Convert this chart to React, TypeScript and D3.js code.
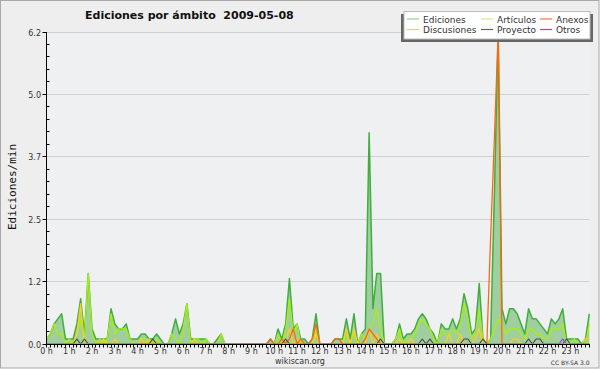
import React, { useRef, useEffect } from 'react';
import * as d3 from 'd3';

// edits per minute, one value per 10-minute slot, one row per hour
const ediciones = [
  0.1, 0.2, 0.4, 0.5, 0.6, 0.1, // 0 h
  0.1, 0.1, 0.4, 0.9, 0.2, 1.4, // 1 h
  0.3, 0.1, 0.1, 0.1, 0.1, 0.7, // 2 h
  0.4, 0.3, 0.3, 0.4, 0.1, 0.1, // 3 h
  0.1, 0.2, 0.2, 0.1, 0.1, 0.2, // 4 h
  0.1, 0, 0, 0.2, 0.5, 0.2, // 5 h
  0.4, 0.8, 0.1, 0.1, 0.1, 0.1, // 6 h
  0.1, 0, 0, 0.1, 0.2, 0, // 7 h
  0, 0, 0, 0, 0, 0, // 8 h
  0, 0, 0, 0, 0, 0.1, // 9 h
  0, 0.3, 0.1, 0.4, 1.3, 0.3, // 10 h
  0.4, 0.1, 0.1, 0, 0.1, 0.6, // 11 h
  0, 0, 0, 0, 0.1, 0.1, // 12 h
  0.1, 0.5, 0.1, 0.6, 0, 0.2, // 13 h
  0.3, 4.2, 0.7, 1.4, 1.4, 0, // 14 h
  0, 0, 0.1, 0.4, 0.1, 0.2, // 15 h
  0.2, 0.3, 0.5, 0.6, 0.5, 0.3, // 16 h
  0.2, 0, 0.4, 0.3, 0.3, 0.5, // 17 h
  0.3, 0.5, 1.0, 0.7, 0.2, 0.3, // 18 h
  1.2, 0.1, 0, 0.1, 3.0, 6.2, // 19 h
  0.7, 0.4, 0.7, 0.7, 0.6, 0.4, // 20 h
  0.2, 0.7, 0.5, 0.5, 0.4, 0.3, // 21 h
  0.2, 0.5, 0.4, 0.5, 0.7, 0.1, // 22 h
  0.1, 0.1, 0.1, 0, 0.1, 0.6, // 23 h
];

const articulos = [
  0.1, 0.2, 0.4, 0.2, 0.2, 0,
  0.1, 0, 0.2, 0.5, 0.1, 1.4,
  0.2, 0, 0.1, 0, 0.1, 0.6,
  0.2, 0.3, 0.3, 0.3, 0.1, 0,
  0, 0.1, 0.1, 0, 0, 0.1,
  0, 0, 0, 0.2, 0.1, 0,
  0.3, 0.8, 0, 0.1, 0.1, 0,
  0.1, 0, 0, 0, 0.2, 0,
  0, 0, 0, 0, 0, 0,
  0, 0, 0, 0, 0, 0,
  0, 0.2, 0, 0.3, 0.9, 0.2,
  0.4, 0, 0, 0, 0, 0.3,
  0, 0, 0, 0, 0, 0,
  0, 0.2, 0, 0.2, 0, 0.2,
  0.1, 0.3, 0.4, 0.7, 0.3, 0,
  0, 0, 0.1, 0.3, 0, 0.1,
  0.1, 0.2, 0.4, 0.5, 0.4, 0.3,
  0.1, 0, 0.3, 0.2, 0.2, 0.3,
  0.2, 0.4, 0.8, 0.5, 0.1, 0.2,
  0.7, 0.1, 0, 0.1, 0.3, 0.5,
  0.4, 0.2, 0.3, 0.3, 0.3, 0.2,
  0.1, 0.3, 0.3, 0.2, 0.2, 0.1,
  0.1, 0.3, 0.3, 0.3, 0.4, 0,
  0, 0.1, 0, 0, 0, 0.4,
];

const discusiones = [
  0, 0, 0, 0, 0, 0,
  0, 0, 0.2, 0.8, 0, 0,
  0, 0, 0, 0.1, 0, 0,
  0.1, 0, 0, 0, 0, 0,
  0, 0.1, 0, 0.1, 0, 0,
  0, 0, 0, 0, 0, 0,
  0, 0, 0, 0.1, 0, 0,
  0, 0, 0, 0, 0, 0,
  0, 0, 0, 0, 0, 0,
  0, 0, 0, 0, 0, 0,
  0, 0, 0, 0.1, 0.3, 0,
  0.1, 0, 0, 0, 0, 0.2,
  0, 0, 0, 0, 0, 0,
  0, 0.3, 0, 0.3, 0, 0,
  0, 0.3, 0, 0.2, 0, 0,
  0, 0, 0, 0.1, 0, 0,
  0.1, 0, 0, 0, 0, 0,
  0, 0, 0, 0, 0.2, 0,
  0, 0.2, 0, 0, 0, 0.1,
  0.3, 0, 0, 0, 0, 0,
  0, 0, 0, 0.1, 0.1, 0,
  0, 0, 0, 0, 0, 0,
  0, 0, 0, 0, 0, 0,
  0, 0, 0, 0, 0.1, 0.1,
];

const anexos = [
  0, 0, 0, 0, 0, 0,
  0, 0, 0, 0, 0, 0,
  0, 0, 0, 0, 0, 0,
  0, 0, 0, 0, 0, 0,
  0, 0, 0, 0, 0, 0,
  0, 0, 0, 0, 0, 0,
  0, 0, 0, 0, 0, 0,
  0, 0, 0, 0, 0, 0,
  0, 0, 0, 0, 0, 0,
  0, 0, 0, 0, 0, 0.1,
  0, 0, 0.1, 0, 0.1, 0.3,
  0, 0.1, 0, 0, 0.1, 0.4,
  0, 0, 0, 0, 0.1, 0.1,
  0, 0, 0, 0, 0, 0,
  0.1, 0.3, 0.2, 0.1, 0, 0,
  0, 0, 0, 0, 0, 0,
  0, 0, 0, 0, 0, 0,
  0, 0, 0, 0, 0, 0,
  0, 0, 0, 0, 0, 0,
  0, 0, 0, 2.1, 4.1, 6.2,
  0, 0, 0, 0, 0, 0,
  0, 0, 0, 0, 0, 0,
  0, 0, 0, 0, 0, 0,
  0, 0, 0, 0, 0, 0,
];

const proyecto = [
  0, 0, 0, 0, 0, 0,
  0, 0, 0.1, 0, 0.1, 0,
  0, 0, 0, 0, 0, 0,
  0, 0, 0, 0, 0, 0,
  0, 0, 0, 0, 0.1, 0,
  0, 0, 0, 0, 0, 0,
  0, 0, 0, 0, 0, 0,
  0, 0, 0, 0, 0, 0,
  0, 0, 0, 0, 0, 0,
  0, 0, 0, 0, 0, 0,
  0, 0, 0, 0.1, 0, 0,
  0, 0, 0, 0, 0, 0,
  0, 0, 0, 0, 0, 0,
  0, 0, 0, 0, 0, 0,
  0, 0, 0, 0, 0.1, 0,
  0, 0, 0, 0, 0, 0,
  0, 0, 0, 0.1, 0, 0.1,
  0, 0, 0, 0, 0, 0,
  0, 0, 0.1, 0.1, 0, 0,
  0, 0.1, 0, 0, 0, 0,
  0, 0, 0, 0, 0, 0,
  0, 0.1, 0, 0.1, 0.1, 0,
  0, 0, 0, 0, 0, 0.1,
  0, 0, 0, 0, 0, 0,
];

const otros = [
  0, 0, 0, 0, 0, 0,
  0, 0, 0, 0, 0, 0,
  0, 0, 0, 0, 0, 0,
  0, 0, 0, 0, 0, 0,
  0, 0, 0, 0, 0, 0,
  0, 0, 0, 0, 0, 0,
  0, 0, 0, 0, 0, 0,
  0, 0, 0, 0, 0, 0,
  0, 0, 0, 0, 0, 0,
  0, 0, 0, 0, 0, 0,
  0, 0, 0, 0, 0, 0,
  0, 0, 0, 0, 0, 0,
  0, 0, 0, 0, 0, 0,
  0, 0, 0, 0, 0, 0,
  0, 0, 0, 0, 0, 0,
  0, 0, 0, 0, 0, 0,
  0, 0, 0, 0, 0, 0,
  0, 0, 0, 0, 0, 0,
  0, 0, 0, 0, 0, 0,
  0, 0, 0, 0, 0, 0,
  0, 0, 0, 0, 0, 0,
  0, 0, 0, 0, 0, 0,
  0, 0, 0, 0, 0.1, 0,
  0, 0, 0, 0, 0, 0,
];

const SLOT_MIN = 10;
const hours = d3.range(0, 24);
const yTicks = [0, 1.24, 2.48, 3.72, 4.96, 6.2];
const yMax = 6.2;

const title = 'Ediciones por ámbito  2009-05-08';

export default function App() {
  const svgRef = useRef(null);

  useEffect(() => {
    const svg = d3.select(svgRef.current);
    svg.selectAll('*').remove();

    const font = 'DejaVu Sans, sans-serif';
    const lastMin = (ediciones.length - 1) * SLOT_MIN;

    const x = d3.scaleLinear().domain([0, 24 * 60]).range([46.5, 593.1]);
    const y = d3.scaleLinear().domain([0, yMax]).range([344, 32]);
    const crisp = (v) => Math.round(v - 0.5) + 0.5;

    // frame + plot background
    svg.append('rect')
      .attr('x', 0.5).attr('y', 0.5)
      .attr('width', 598.5).attr('height', 367.5)
      .attr('fill', '#eeeeee')
      .attr('stroke', '#a8a8a8');

    svg.append('rect')
      .attr('x', x(0)).attr('y', y(yMax))
      .attr('width', x(lastMin) - x(0)).attr('height', y(0) - y(yMax))
      .attr('fill', '#eff0f2');

    // grid
    svg.append('g').selectAll('line')
      .data(yTicks.filter(t => t > 0))
      .enter().append('line')
      .attr('x1', x(0)).attr('x2', x(lastMin))
      .attr('y1', d => crisp(y(d))).attr('y2', d => crisp(y(d)))
      .attr('stroke', '#d0d0d0');

    svg.append('clipPath').attr('id', 'plotclip')
      .append('rect').attr('x', x(0)).attr('y', 0)
      .attr('width', 560).attr('height', y(0) - 0.5);

    const plot = svg.append('g').attr('clip-path', 'url(#plotclip)');

    const area = d3.area()
      .x((d, i) => x(i * SLOT_MIN))
      .y0(y(0))
      .y1(d => y(d));
    const line = d3.line()
      .x((d, i) => x(i * SLOT_MIN))
      .y(d => y(d));

    plot.append('path')
      .datum(ediciones)
      .attr('d', area)
      .attr('fill', '#9fcf9f');

    const series = [
      { values: ediciones, color: '#3fae3f', width: 1.5 },
      { values: articulos, color: '#aaee11', width: 1.3 },
      { values: discusiones, color: '#ffcc22', width: 1.3 },
      { values: anexos, color: '#ff6611', width: 1.3 },
      { values: proyecto, color: '#444444', width: 1.1 },
      { values: otros, color: '#9933ee', width: 1.1 },
    ];

    series.forEach(s => {
      plot.append('path')
        .datum(s.values)
        .attr('d', line)
        .attr('fill', 'none')
        .attr('stroke', s.color)
        .attr('stroke-width', s.width)
        .attr('stroke-linejoin', 'round');
    });

    // y axis
    const ax = svg.append('g');
    ax.append('line')
      .attr('x1', 46.5).attr('x2', 46.5)
      .attr('y1', y(yMax)).attr('y2', y(0))
      .attr('stroke', '#000');

    yTicks.forEach((t, k) => {
      const yy = crisp(y(t));
      ax.append('line')
        .attr('x1', 42.5).attr('x2', 46.5)
        .attr('y1', yy).attr('y2', yy)
        .attr('stroke', '#000');
      ax.append('text')
        .attr('x', 41).attr('y', yy + 3)
        .attr('text-anchor', 'end')
        .attr('font-family', font).attr('font-size', 8)
        .attr('fill', '#333')
        .text(t.toFixed(1));
      if (k < yTicks.length - 1) {
        const step = (yTicks[k + 1] - t) / 5;
        for (let m = 1; m < 5; m++) {
          const ym = crisp(y(t + step * m));
          ax.append('line')
            .attr('x1', 46.5).attr('x2', 49.5)
            .attr('y1', ym).attr('y2', ym)
            .attr('stroke', '#000');
        }
      }
    });

    // x axis
    ax.append('line')
      .attr('x1', x(0)).attr('x2', x(lastMin) + 0.5)
      .attr('y1', 344.5).attr('y2', 344.5)
      .attr('stroke', '#000');

    d3.range(0, ediciones.length).forEach(i => {
      const xx = crisp(x(i * SLOT_MIN));
      ax.append('line')
        .attr('x1', xx).attr('x2', xx)
        .attr('y1', 344.5).attr('y2', 347.5)
        .attr('stroke', '#000');
    });

    ax.selectAll('.hl')
      .data(hours)
      .enter().append('text')
      .attr('x', h => x(h * 60))
      .attr('y', 354)
      .attr('text-anchor', 'middle')
      .attr('font-family', font).attr('font-size', 8)
      .attr('fill', '#333')
      .text(h => `${h} h`);

    // titles
    svg.append('text')
      .attr('x', 85).attr('y', 18.5)
      .attr('font-family', font).attr('font-size', 11)
      .attr('font-weight', 'bold')
      .attr('fill', '#111')
      .style('white-space', 'pre')
      .text(title);

    svg.append('text')
      .attr('transform', 'translate(16,187) rotate(-90)')
      .attr('text-anchor', 'middle')
      .attr('font-family', 'DejaVu Sans Mono, monospace').attr('font-size', 11)
      .attr('fill', '#111')
      .text('Ediciones/min');

    svg.append('text')
      .attr('x', 300).attr('y', 363.5)
      .attr('text-anchor', 'middle')
      .attr('font-family', font).attr('font-size', 8)
      .attr('fill', '#333')
      .text('wikiscan.org');

    svg.append('text')
      .attr('x', 589.5).attr('y', 364.5)
      .attr('text-anchor', 'end')
      .attr('font-family', font).attr('font-size', 6)
      .attr('fill', '#333')
      .text('CC BY-SA 3.0');

    // legend
    const legendItems = [
      { name: 'Ediciones', color: '#8fd18f', col: 0, row: 0 },
      { name: 'Artículos', color: '#ccee88', col: 1, row: 0 },
      { name: 'Anexos', color: '#ff7744', col: 2, row: 0 },
      { name: 'Discusiones', color: '#ffcc55', col: 0, row: 1 },
      { name: 'Proyecto', color: '#666666', col: 1, row: 1 },
      { name: 'Otros', color: '#9944ee', col: 2, row: 1 },
    ];
    const colX = [407, 481, 540];

    const lg = svg.append('g');
    lg.append('rect')
      .attr('x', 401).attr('y', 14)
      .attr('width', 192).attr('height', 28)
      .attr('fill', '#666');
    lg.append('rect')
      .attr('x', 404).attr('y', 11.5)
      .attr('width', 186).attr('height', 27.5)
      .attr('fill', '#fff')
      .attr('stroke', '#bbb');

    legendItems.forEach(d => {
      const ly = 19 + d.row * 10.5;
      lg.append('line')
        .attr('x1', colX[d.col]).attr('x2', colX[d.col] + 12)
        .attr('y1', ly).attr('y2', ly)
        .attr('stroke', d.color).attr('stroke-width', 1.2);
      lg.append('text')
        .attr('x', colX[d.col] + 16).attr('y', ly + 3.5)
        .attr('font-family', font).attr('font-size', 9)
        .attr('fill', '#333')
        .text(d.name);
    });

    return () => {
      d3.select(svgRef.current).selectAll('*').remove();
    };
  }, []);

  return (
    <svg ref={svgRef} width={600} height={370}
      style={{ position: 'absolute', left: 0, top: 0, background: '#fff' }} />
  );
}
